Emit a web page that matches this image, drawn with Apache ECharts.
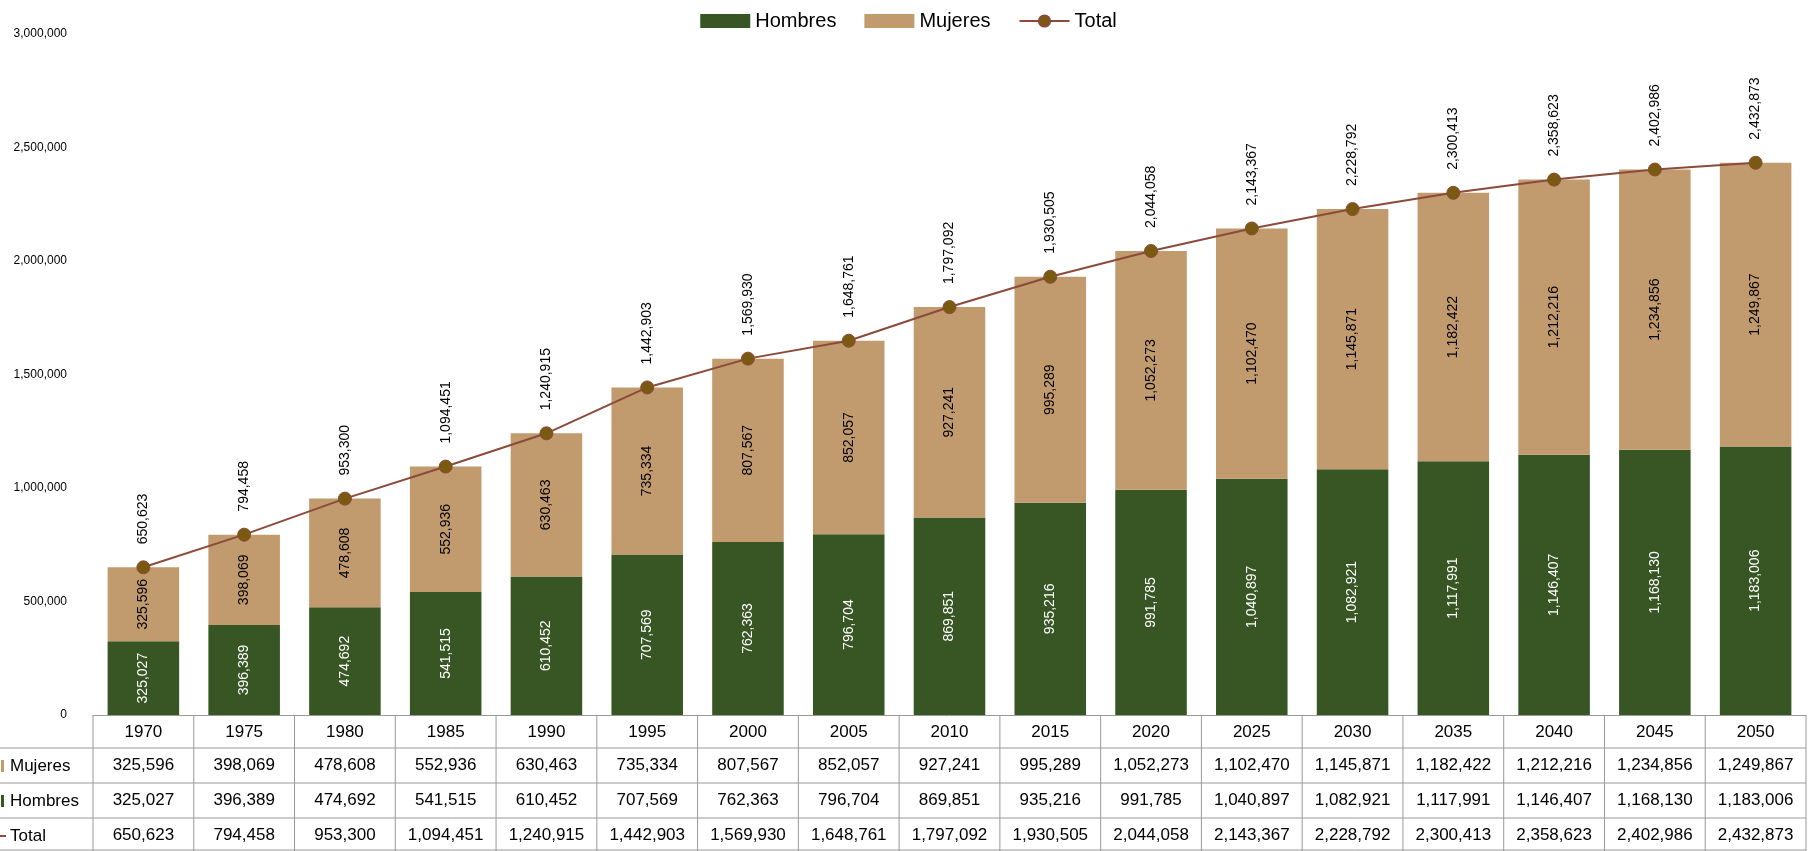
<!DOCTYPE html>
<html><head><meta charset="utf-8">
<script src="https://cdn.jsdelivr.net/npm/echarts@6/dist/echarts.min.js"></script>
<style>html,body{margin:0;padding:0;background:#fff}#c{width:1817px;height:851px}</style>
</head><body><div id="c"></div>
<script>
const years=['1970','1975','1980','1985','1990','1995','2000','2005','2010','2015','2020','2025','2030','2035','2040','2045','2050'];
const hombres=[325027,396389,474692,541515,610452,707569,762363,796704,869851,935216,991785,1040897,1082921,1117991,1146407,1168130,1183006];
const mujeres=[325596,398069,478608,552936,630463,735334,807567,852057,927241,995289,1052273,1102470,1145871,1182422,1212216,1234856,1249867];
const total=[650623,794458,953300,1094451,1240915,1442903,1569930,1648761,1797092,1930505,2044058,2143367,2228792,2300413,2358623,2402986,2432873];
const fmt=v=>Number(v).toLocaleString('en-US');
const F='Liberation Sans Narrow, Arial Narrow, Liberation Sans, sans-serif';
const cH='#375623',cM='#c19a6e',cL='#8b4a3a',cS='#7a5a10';
const chart=echarts.init(document.getElementById('c'));
const top0=34,bot=136,L=93,R=11,H=851;
const rows=[{name:'Mujeres',data:mujeres,off:33},{name:'Hombres',data:hombres,off:68},{name:'Total',data:total,off:103}];
const xAxes=[{type:'category',data:years,axisLine:{lineStyle:{color:'#999'}},axisTick:{show:false},
  axisLabel:{color:'#000',fontSize:17,fontFamily:F,margin:9}}];
rows.forEach((r,i)=>xAxes.push({type:'category',data:years,position:'bottom',offset:r.off,gridIndex:0,
  axisLine:{show:false},axisTick:{show:false},
  axisLabel:{color:'#000',fontSize:17,fontFamily:F,margin:9,formatter:(v,idx)=>fmt(r.data[idx])}}));
chart.setOption({
  animation:false,
  legend:{top:6,left:'center',itemGap:28,textStyle:{fontSize:20,fontFamily:F,color:'#000'},
    data:[{name:'Hombres',icon:'rect'},{name:'Mujeres',icon:'rect'},{name:'Total'}],itemWidth:50,itemHeight:14},
  grid:{left:L,right:R,top:top0,bottom:bot},
  xAxis:xAxes,
  yAxis:{type:'value',min:0,max:3000000,interval:500000,splitLine:{show:false},
    axisLine:{show:false},axisTick:{show:false},
    axisLabel:{formatter:v=>fmt(v),fontSize:12,fontFamily:F,color:'#000',margin:26}},
  series:[
    {name:'Hombres',type:'bar',stack:'a',data:hombres,barWidth:'71%',itemStyle:{color:cH},
      label:{show:true,position:'inside',rotate:90,color:'#fff',fontSize:14,fontFamily:F,formatter:p=>fmt(p.value)}},
    {name:'Mujeres',type:'bar',stack:'a',data:mujeres,itemStyle:{color:cM},
      label:{show:true,position:'inside',rotate:90,color:'#000',fontSize:14,fontFamily:F,formatter:p=>fmt(p.value)}},
    {name:'Total',type:'line',data:total,symbol:'circle',symbolSize:13,lineStyle:{color:cL,width:2},
      itemStyle:{color:cS,borderColor:cL,borderWidth:1},
      label:{show:true,position:'top',rotate:90,align:'left',verticalAlign:'middle',distance:16,color:'#000',fontSize:14,fontFamily:F,formatter:p=>fmt(p.value)}}
  ]
});
const x0=chart.convertToPixel({xAxisIndex:0},0), x1=chart.convertToPixel({xAxisIndex:0},1);
const cw=x1-x0, gl=x0-cw/2, yb=H-bot;
const g=[];
const ls={stroke:'#999',lineWidth:1};
for(let i=0;i<=years.length;i++){const x=gl+i*cw;g.push({type:'line',shape:{x1:x,y1:yb,x2:x,y2:H},style:ls});}
[yb+33,yb+68,yb+103,H-1].forEach(y=>g.push({type:'line',shape:{x1:0,y1:y,x2:gl+years.length*cw,y2:y},style:ls}));
const cols=[cM,cH,cL];
rows.forEach((r,i)=>{
  const yc=yb+r.off+18;
  g.push({type:'text',style:{text:r.name,x:10,y:yc,fontSize:17,fontFamily:F,fill:'#000',verticalAlign:'middle'}});
  if(i<2)g.push({type:'rect',shape:{x:1,y:yc-6,width:3,height:12},style:{fill:cols[i]}});
  else g.push({type:'line',shape:{x1:0,y1:yc,x2:6,y2:yc},style:{stroke:cL,lineWidth:2}});
});
chart.setOption({graphic:g});
</script></body></html>
